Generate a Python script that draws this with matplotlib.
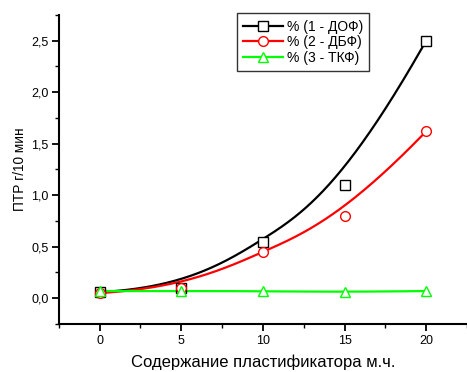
import numpy as np
import matplotlib
matplotlib.use("Agg")
import matplotlib.pyplot as plt
from matplotlib.ticker import MultipleLocator, FuncFormatter

plt.rcParams['font.family'] = ['Liberation Sans', 'DejaVu Sans']

content = [0, 5, 10, 15, 20]
dof = [0.06, 0.10, 0.55, 1.10, 2.50]
dbf = [0.05, 0.10, 0.45, 0.80, 1.62]
tkf = [0.07, 0.07, 0.07, 0.06, 0.07]

series = [
    ("% (1 - ДОФ)", dof, "black", "s"),
    ("% (2 - ДБФ)", dbf, "red", "o"),
    ("% (3 - ТКФ)", tkf, "#00ff00", "^"),
]


def bspline(px, py, degree=3, n=300):
    """Clamped uniform B-spline using the data points as control points."""
    px = np.asarray(px, float)
    py = np.asarray(py, float)
    m = len(px)
    k = min(degree, m - 1)
    inner = np.arange(1, m - k)
    knots = np.concatenate([np.zeros(k + 1), inner, np.full(k + 1, m - k)])
    u = np.linspace(0, m - k, n)
    u[-1] -= 1e-9

    def basis(i, p, t):
        if p == 0:
            return ((knots[i] <= t) & (t < knots[i + 1])).astype(float)
        out = np.zeros_like(t)
        d1 = knots[i + p] - knots[i]
        d2 = knots[i + p + 1] - knots[i + 1]
        if d1 > 0:
            out += (t - knots[i]) / d1 * basis(i, p - 1, t)
        if d2 > 0:
            out += (knots[i + p + 1] - t) / d2 * basis(i + 1, p - 1, t)
        return out

    B = np.array([basis(i, k, u) for i in range(m)])
    return B.T @ px, B.T @ py


fig = plt.figure(figsize=(4.67, 3.72), dpi=100)
ax = fig.add_axes([0.126, 0.129, 0.874, 0.831])

handles = []
for label, vals, color, marker in series:
    cx, cy = bspline(content, vals)
    ax.plot(cx, cy, color=color, lw=1.6, zorder=2)
    ax.plot(content, vals, linestyle='none', marker=marker, ms=7,
            mfc='white', mec=color, mew=1.0, zorder=3)
    h, = ax.plot([], [], color=color, lw=1.6, marker=marker, ms=7,
                 mfc='white', mec=color, mew=1.0)
    handles.append((h, label))

ax.set_xlim(-2.5, 22.5)
ax.set_ylim(-0.25, 2.75)
ax.spines['top'].set_visible(False)
ax.spines['right'].set_visible(False)
ax.spines['left'].set_linewidth(1.5)
ax.spines['bottom'].set_linewidth(1.5)

ax.xaxis.set_major_locator(MultipleLocator(5))
ax.xaxis.set_minor_locator(MultipleLocator(2.5))
ax.yaxis.set_major_locator(MultipleLocator(0.5))
ax.yaxis.set_minor_locator(MultipleLocator(0.25))
ax.yaxis.set_major_formatter(FuncFormatter(lambda v, p: f"{v:.1f}".replace('.', ',')))
ax.tick_params(which='major', direction='out', length=5, width=1.3,
               labelsize=9)
ax.tick_params(axis='x', which='major', pad=3)
ax.tick_params(axis='y', which='major', pad=2.5)
ax.tick_params(which='minor', direction='out', length=3, width=1.0)

ax.set_xlabel("Содержание пластификатора м.ч.", fontsize=12, labelpad=5)
ax.set_ylabel("ПТР г/10 мин", fontsize=9.8, labelpad=3)

leg = ax.legend([h for h, _ in handles], [l for _, l in handles],
                loc='upper left', bbox_to_anchor=(0.436, 1.005), fontsize=10,
                frameon=True, fancybox=False, edgecolor='black',
                handlelength=2.9, borderpad=0.45, labelspacing=0.12,
                handletextpad=0.25, borderaxespad=0)
leg.get_frame().set_linewidth(1.0)

fig.savefig("out.png", dpi=100)
